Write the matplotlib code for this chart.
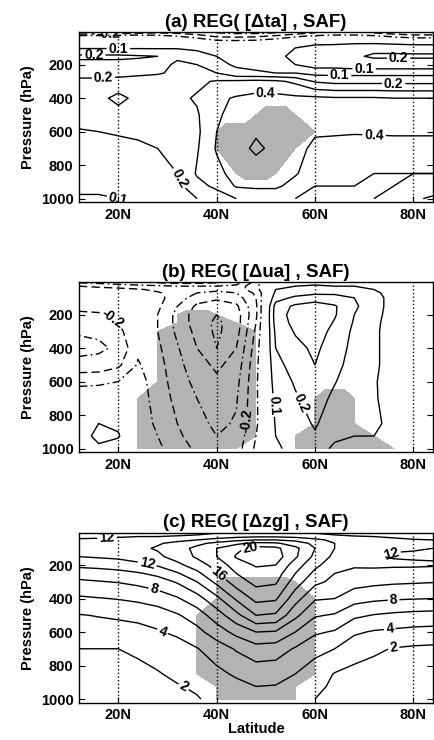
import numpy as np
import matplotlib
matplotlib.use("Agg")
import matplotlib.pyplot as plt

plt.rcParams['font.family'] = ['Liberation Sans', 'DejaVu Sans']
plt.rcParams['font.weight'] = 'bold'

# grid of the fields
lats = [12, 16, 20, 24, 28, 32, 36, 40, 44, 48, 52, 56, 60, 64, 68, 72, 76, 80, 84]
levs = [10, 30, 50, 70, 100, 150, 200, 250, 300, 400, 500, 600, 700, 850, 925, 1000]

# one row per latitude, values from 10 hPa down to 1000 hPa
ta_rows = [
    [-0.28, -0.06, 0.02, 0.06, 0.09, 0.22, 0.17, 0.17, 0.22, 0.26, 0.25, 0.19, 0.16, 0.14, 0.12, 0.09],
    [-0.27, -0.06, 0.02, 0.06, 0.09, 0.22, 0.17, 0.17, 0.22, 0.27, 0.25, 0.20, 0.16, 0.14, 0.12, 0.09],
    [-0.25, -0.05, 0.02, 0.06, 0.09, 0.22, 0.17, 0.17, 0.23, 0.33, 0.26, 0.21, 0.17, 0.14, 0.12, 0.10],
    [-0.22, -0.04, 0.03, 0.06, 0.09, 0.21, 0.17, 0.18, 0.24, 0.27, 0.26, 0.22, 0.18, 0.15, 0.13, 0.11],
    [-0.20, -0.06, 0.02, 0.06, 0.09, 0.20, 0.18, 0.19, 0.25, 0.27, 0.26, 0.23, 0.20, 0.17, 0.15, 0.12],
    [-0.22, -0.10, -0.02, 0.05, 0.09, 0.19, 0.21, 0.22, 0.26, 0.28, 0.27, 0.25, 0.23, 0.20, 0.17, 0.14],
    [-0.25, -0.15, -0.06, 0.03, 0.08, 0.14, 0.20, 0.24, 0.28, 0.31, 0.29, 0.28, 0.29, 0.31, 0.27, 0.20],
    [-0.30, -0.22, -0.12, -0.03, 0.06, 0.10, 0.12, 0.20, 0.31, 0.38, 0.38, 0.40, 0.41, 0.37, 0.32, 0.25],
    [-0.32, -0.23, -0.13, -0.03, 0.05, 0.08, 0.09, 0.12, 0.32, 0.41, 0.45, 0.46, 0.47, 0.44, 0.41, 0.30],
    [-0.32, -0.22, -0.12, -0.02, 0.05, 0.07, 0.08, 0.11, 0.33, 0.43, 0.47, 0.49, 0.515, 0.46, 0.42, 0.32],
    [-0.30, -0.18, -0.08, 0.01, 0.06, 0.08, 0.08, 0.10, 0.32, 0.43, 0.47, 0.48, 0.48, 0.45, 0.42, 0.32],
    [-0.25, -0.12, -0.03, 0.05, 0.10, 0.12, 0.10, 0.10, 0.28, 0.42, 0.45, 0.44, 0.43, 0.41, 0.36, 0.30],
    [-0.20, -0.08, -0.01, 0.08, 0.13, 0.14, 0.12, 0.07, 0.19, 0.42, 0.44, 0.41, 0.38, 0.34, 0.30, 0.27],
    [-0.18, -0.06, 0.00, 0.08, 0.14, 0.15, 0.12, 0.07, 0.17, 0.41, 0.43, 0.41, 0.37, 0.33, 0.30, 0.28],
    [-0.18, -0.06, 0.00, 0.09, 0.15, 0.18, 0.13, 0.07, 0.17, 0.41, 0.43, 0.41, 0.35, 0.31, 0.30, 0.30],
    [-0.20, -0.08, -0.01, 0.09, 0.16, 0.22, 0.13, 0.07, 0.17, 0.41, 0.43, 0.41, 0.36, 0.30, 0.28, 0.30],
    [-0.25, -0.12, -0.03, 0.08, 0.16, 0.22, 0.13, 0.07, 0.17, 0.40, 0.43, 0.41, 0.37, 0.30, 0.30, 0.33],
    [-0.28, -0.15, -0.05, 0.07, 0.15, 0.22, 0.13, 0.07, 0.17, 0.40, 0.43, 0.41, 0.37, 0.30, 0.32, 0.38],
    [-0.28, -0.15, -0.05, 0.07, 0.15, 0.22, 0.13, 0.07, 0.17, 0.40, 0.43, 0.41, 0.37, 0.30, 0.33, 0.42],
]

ua_rows = [
    [-0.30, -0.20, -0.15, -0.12, -0.12, -0.17, -0.22, -0.25, -0.29, -0.33, -0.27, -0.12, -0.05, 0.05, 0.05, 0.03],
    [-0.32, -0.22, -0.16, -0.12, -0.12, -0.17, -0.21, -0.24, -0.28, -0.32, -0.26, -0.12, -0.03, 0.10, 0.13, 0.08],
    [-0.35, -0.24, -0.17, -0.13, -0.12, -0.15, -0.18, -0.20, -0.22, -0.28, -0.22, -0.10, -0.03, 0.08, 0.11, 0.05],
    [-0.38, -0.26, -0.19, -0.15, -0.13, -0.14, -0.15, -0.15, -0.14, -0.12, -0.09, -0.06, -0.05, -0.04, -0.03, -0.02],
    [-0.40, -0.28, -0.22, -0.19, -0.17, -0.18, -0.20, -0.20, -0.20, -0.18, -0.16, -0.15, -0.14, -0.12, -0.10, -0.08],
    [-0.42, -0.30, -0.25, -0.24, -0.25, -0.30, -0.33, -0.33, -0.32, -0.29, -0.27, -0.25, -0.23, -0.20, -0.18, -0.15],
    [-0.42, -0.30, -0.27, -0.30, -0.35, -0.42, -0.45, -0.45, -0.43, -0.40, -0.36, -0.33, -0.30, -0.27, -0.25, -0.22],
    [-0.40, -0.30, -0.28, -0.32, -0.38, -0.46, -0.50, -0.52, -0.52, -0.50, -0.42, -0.38, -0.35, -0.32, -0.30, -0.27],
    [-0.35, -0.27, -0.25, -0.30, -0.35, -0.42, -0.45, -0.45, -0.44, -0.40, -0.36, -0.33, -0.31, -0.29, -0.27, -0.25],
    [-0.15, -0.12, -0.14, -0.18, -0.20, -0.22, -0.22, -0.20, -0.18, -0.15, -0.13, -0.12, -0.12, -0.12, -0.10, -0.08],
    [0.05, 0.08, 0.10, 0.12, 0.16, 0.24, 0.25, 0.24, 0.22, 0.20, 0.17, 0.15, 0.13, 0.11, 0.10, 0.09],
    [0.06, 0.10, 0.13, 0.16, 0.22, 0.32, 0.34, 0.33, 0.31, 0.27, 0.24, 0.21, 0.19, 0.16, 0.14, 0.12],
    [0.06, 0.12, 0.15, 0.18, 0.25, 0.35, 0.38, 0.37, 0.35, 0.32, 0.30, 0.27, 0.24, 0.21, 0.19, 0.15],
    [0.06, 0.10, 0.15, 0.18, 0.24, 0.31, 0.31, 0.29, 0.27, 0.25, 0.23, 0.205, 0.18, 0.15, 0.12, 0.08],
    [0.05, 0.10, 0.13, 0.17, 0.20, 0.22, 0.20, 0.19, 0.18, 0.17, 0.16, 0.15, 0.14, 0.12, 0.10, 0.07],
    [0.04, 0.08, 0.10, 0.12, 0.13, 0.13, 0.13, 0.12, 0.12, 0.12, 0.12, 0.11, 0.11, 0.12, 0.10, 0.07],
    [0.00, 0.03, 0.05, 0.06, 0.07, 0.07, 0.06, 0.06, 0.05, 0.05, 0.05, 0.05, 0.06, 0.07, 0.07, 0.05],
    [0.00, 0.02, 0.03, 0.03, 0.03, 0.03, 0.03, 0.02, 0.02, 0.02, 0.02, 0.02, 0.03, 0.03, 0.03, 0.02],
    [0.00, 0.02, 0.03, 0.03, 0.03, 0.03, 0.03, 0.02, 0.02, 0.02, 0.02, 0.02, 0.03, 0.03, 0.03, 0.02],
]

zg_rows = [
    [10.0, 11.5, 12.3, 12.8, 12.8, 12.0, 10.5, 8.8, 7.7, 5.7, 3.9, 3.0, 2.0, 1.6, 1.3, 1.0],
    [10.0, 11.6, 12.4, 13.0, 13.0, 12.2, 10.7, 9.0, 7.9, 5.9, 4.1, 3.1, 2.0, 1.6, 1.3, 1.0],
    [10.0, 11.8, 12.6, 13.2, 13.3, 12.4, 11.0, 9.3, 8.1, 6.1, 4.3, 3.2, 2.0, 1.6, 1.3, 1.1],
    [10.0, 12.0, 12.8, 13.4, 13.6, 12.9, 11.5, 9.8, 8.5, 6.4, 4.6, 3.3, 2.2, 1.7, 1.4, 1.2],
    [10.5, 12.0, 13.0, 13.8, 14.2, 13.6, 12.2, 10.5, 9.1, 6.9, 5.0, 3.8, 2.6, 1.9, 1.5, 1.3],
    [11.0, 12.3, 13.5, 14.5, 15.2, 14.8, 13.5, 11.8, 10.2, 7.8, 5.8, 4.4, 3.1, 2.3, 1.9, 1.6],
    [11.5, 12.5, 14.0, 15.5, 16.5, 16.3, 15.0, 13.5, 12.0, 9.2, 7.0, 5.4, 3.9, 2.8, 2.2, 1.9],
    [12.0, 13.0, 14.8, 16.5, 18.0, 18.0, 16.8, 15.8, 14.5, 11.5, 9.0, 7.0, 5.0, 3.5, 2.8, 2.4],
    [12.0, 13.5, 15.5, 17.5, 19.5, 20.2, 19.0, 18.0, 17.0, 14.3, 11.4, 8.6, 6.2, 4.3, 3.4, 2.9],
    [12.0, 13.8, 16.0, 18.5, 20.8, 21.2, 20.2, 19.3, 18.6, 16.6, 14.0, 10.0, 7.2, 4.9, 4.0, 3.5],
    [12.0, 13.8, 16.0, 18.3, 20.5, 21.0, 20.0, 19.0, 18.3, 16.3, 13.7, 9.8, 7.0, 4.8, 3.9, 3.4],
    [12.0, 13.5, 15.5, 17.0, 18.5, 18.3, 17.0, 16.0, 15.0, 12.8, 10.5, 8.0, 5.8, 4.0, 3.2, 2.7],
    [12.0, 13.0, 14.5, 15.5, 16.0, 15.5, 14.5, 13.5, 12.5, 10.2, 8.2, 6.3, 4.6, 3.0, 2.4, 2.0],
    [11.5, 12.5, 13.5, 14.0, 14.0, 13.5, 12.8, 12.0, 11.5, 10.0, 7.8, 5.8, 4.0, 1.9, 1.7, 1.4],
    [11.0, 12.2, 13.0, 13.2, 13.0, 12.6, 12.2, 11.6, 10.8, 8.8, 6.4, 4.3, 2.8, 1.5, 1.3, 1.1],
    [10.5, 12.0, 12.5, 12.5, 12.2, 12.1, 12.4, 11.3, 10.5, 8.4, 5.9, 3.8, 2.3, 1.3, 1.1, 1.0],
    [10.3, 11.8, 12.3, 12.3, 12.1, 11.9, 12.3, 11.2, 10.3, 8.2, 5.6, 3.6, 1.9, 1.2, 1.0, 0.9],
    [10.2, 11.6, 12.1, 12.2, 12.1, 11.8, 12.3, 11.1, 10.2, 8.1, 5.4, 3.4, 1.7, 1.1, 0.9, 0.8],
    [10.2, 11.5, 12.0, 12.1, 12.0, 11.8, 12.2, 11.0, 10.1, 8.0, 5.3, 3.3, 1.6, 1.0, 0.9, 0.8],
]

# significance (shaded) points: pressure -> latitudes on the mask grid
mask_lats = [14, 18, 22, 26, 30, 34, 38, 42, 46, 50, 54, 58, 62, 66, 70, 74, 78, 82]
sig_ta = {500: [50, 54], 600: [42, 46, 50, 54, 58], 700: [42, 46, 50, 54], 850: [46, 50]}
sig_ua = {
    200: [34, 38], 250: [34, 38, 42],
    300: [30, 34, 38, 42, 46], 400: [30, 34, 38, 42, 46], 500: [30, 34, 38, 42, 46],
    600: [30, 34, 38, 42, 46], 700: [26, 30, 34, 38, 42, 46, 62, 66],
    850: [26, 30, 34, 38, 42, 46, 62, 66], 925: [26, 30, 34, 38, 42, 46, 58, 62, 66, 70],
    1000: [26, 30, 34, 38, 42, 58, 62, 66, 70, 74],
}
sig_zg = {
    300: [42, 46, 50, 54], 400: [42, 46, 50, 54, 58], 500: [38, 42, 46, 50, 54, 58],
    600: [38, 42, 46, 50, 54, 58], 700: [38, 42, 46, 50, 54, 58],
    850: [38, 42, 46, 50, 54, 58], 925: [42, 46, 50, 54], 1000: [42, 46, 50, 54],
}

lev_ta = [-0.3, -0.2, -0.1, 0.1, 0.2, 0.3, 0.4, 0.5]
lev_ua = [-0.5, -0.4, -0.3, -0.2, -0.1, 0.1, 0.2, 0.3]
lev_zg = [2, 4, 6, 8, 10, 12, 14, 16, 18, 20]

# labelled levels and where the labels sit (lat, hPa)
labl_ta = [-0.2, 0.1, 0.2, 0.4]
labl_ua = [-0.2, 0.1, 0.2]
labl_zg = [2, 4, 8, 12, 16, 20]
lab_ta = [(18, 15), (20, 105), (15, 140), (17, 285), (50, 370), (72, 630),
          (65, 270), (76, 312), (70, 225), (77, 150), (28, 940), (23, 985)]
lab_ua = [(18, 260), (42.6, 830), (51.7, 740), (56.4, 740)]
lab_zg = [(17.7, 40), (26, 176), (27.3, 346), (29, 596), (34.9, 846), (40.3, 256),
          (46.7, 80), (75.6, 136), (76, 416), (75.2, 580), (76, 696)]

DASH = (0, (6, 3))
DASHDOT = (0, (6, 2.5, 1.2, 2.5))


def sig_mask(sig):
    m = np.zeros((len(levs), len(mask_lats)))
    for p, lat_list in sig.items():
        for la in lat_list:
            m[levs.index(p), mask_lats.index(la)] = 1
    return m


def line_styles(levels):
    styles = []
    for lv in levels:
        if lv > 0:
            styles.append('solid')
        else:
            # alternate dash-dot / dashed for negative contours
            k = int(round(abs(lv) * 10))
            styles.append(DASHDOT if k % 2 == 1 else DASH)
    return styles


def panel(ax, rows, sig, levels, labeled, lab_pos, title):
    ax.contourf(mask_lats, levs, sig_mask(sig), levels=[0.5, 1.5], colors=['#b3b3b3'])
    z = np.array(rows).T
    rest = [lv for lv in levels if lv not in labeled]
    ax.contour(lats, levs, z, levels=rest, colors='k', linewidths=1.0,
               linestyles=line_styles(rest))
    cs = ax.contour(lats, levs, z, levels=labeled, colors='k', linewidths=1.0,
                    linestyles=line_styles(labeled))
    ax.set_xlim(12, 84)
    ax.set_ylim(1022, 7)
    txt = ax.clabel(cs, fmt='%g', fontsize=10, inline=True, inline_spacing=2, manual=lab_pos)
    for t in txt:
        t.set_fontweight('bold')
    ax.set_xticks([20, 40, 60, 80])
    ax.set_xticklabels(['20N', '40N', '60N', '80N'])
    ax.set_yticks([200, 400, 600, 800, 1000])
    ax.tick_params(direction='in', length=4, labelsize=10.5, right=True, top=False, pad=4)
    ax.xaxis.grid(True, linestyle=':', color='k', linewidth=1.0)
    ax.set_ylabel('Pressure (hPa)', fontsize=10.5, fontweight='bold')
    ax.set_title(title, fontsize=13.5, fontweight='bold', pad=4)
    for s in ax.spines.values():
        s.set_linewidth(1.0)


fig = plt.figure(figsize=(4.34, 7.40), dpi=100)
ax1 = fig.add_axes([0.182, 0.7266, 0.8157, 0.2297])
ax2 = fig.add_axes([0.182, 0.3888, 0.8157, 0.2297])
ax3 = fig.add_axes([0.182, 0.0504, 0.8157, 0.2297])

panel(ax1, ta_rows, sig_ta, lev_ta, labl_ta, lab_ta, '(a) REG( [\u0394ta] , SAF)')
panel(ax2, ua_rows, sig_ua, lev_ua, labl_ua, lab_ua, '(b) REG( [\u0394ua] , SAF)')
panel(ax3, zg_rows, sig_zg, lev_zg, labl_zg, lab_zg, '(c) REG( [\u0394zg] , SAF)')
ax3.set_xlabel('Latitude', fontsize=10.5, fontweight='bold', labelpad=0)

fig.savefig('out.png', dpi=100)
